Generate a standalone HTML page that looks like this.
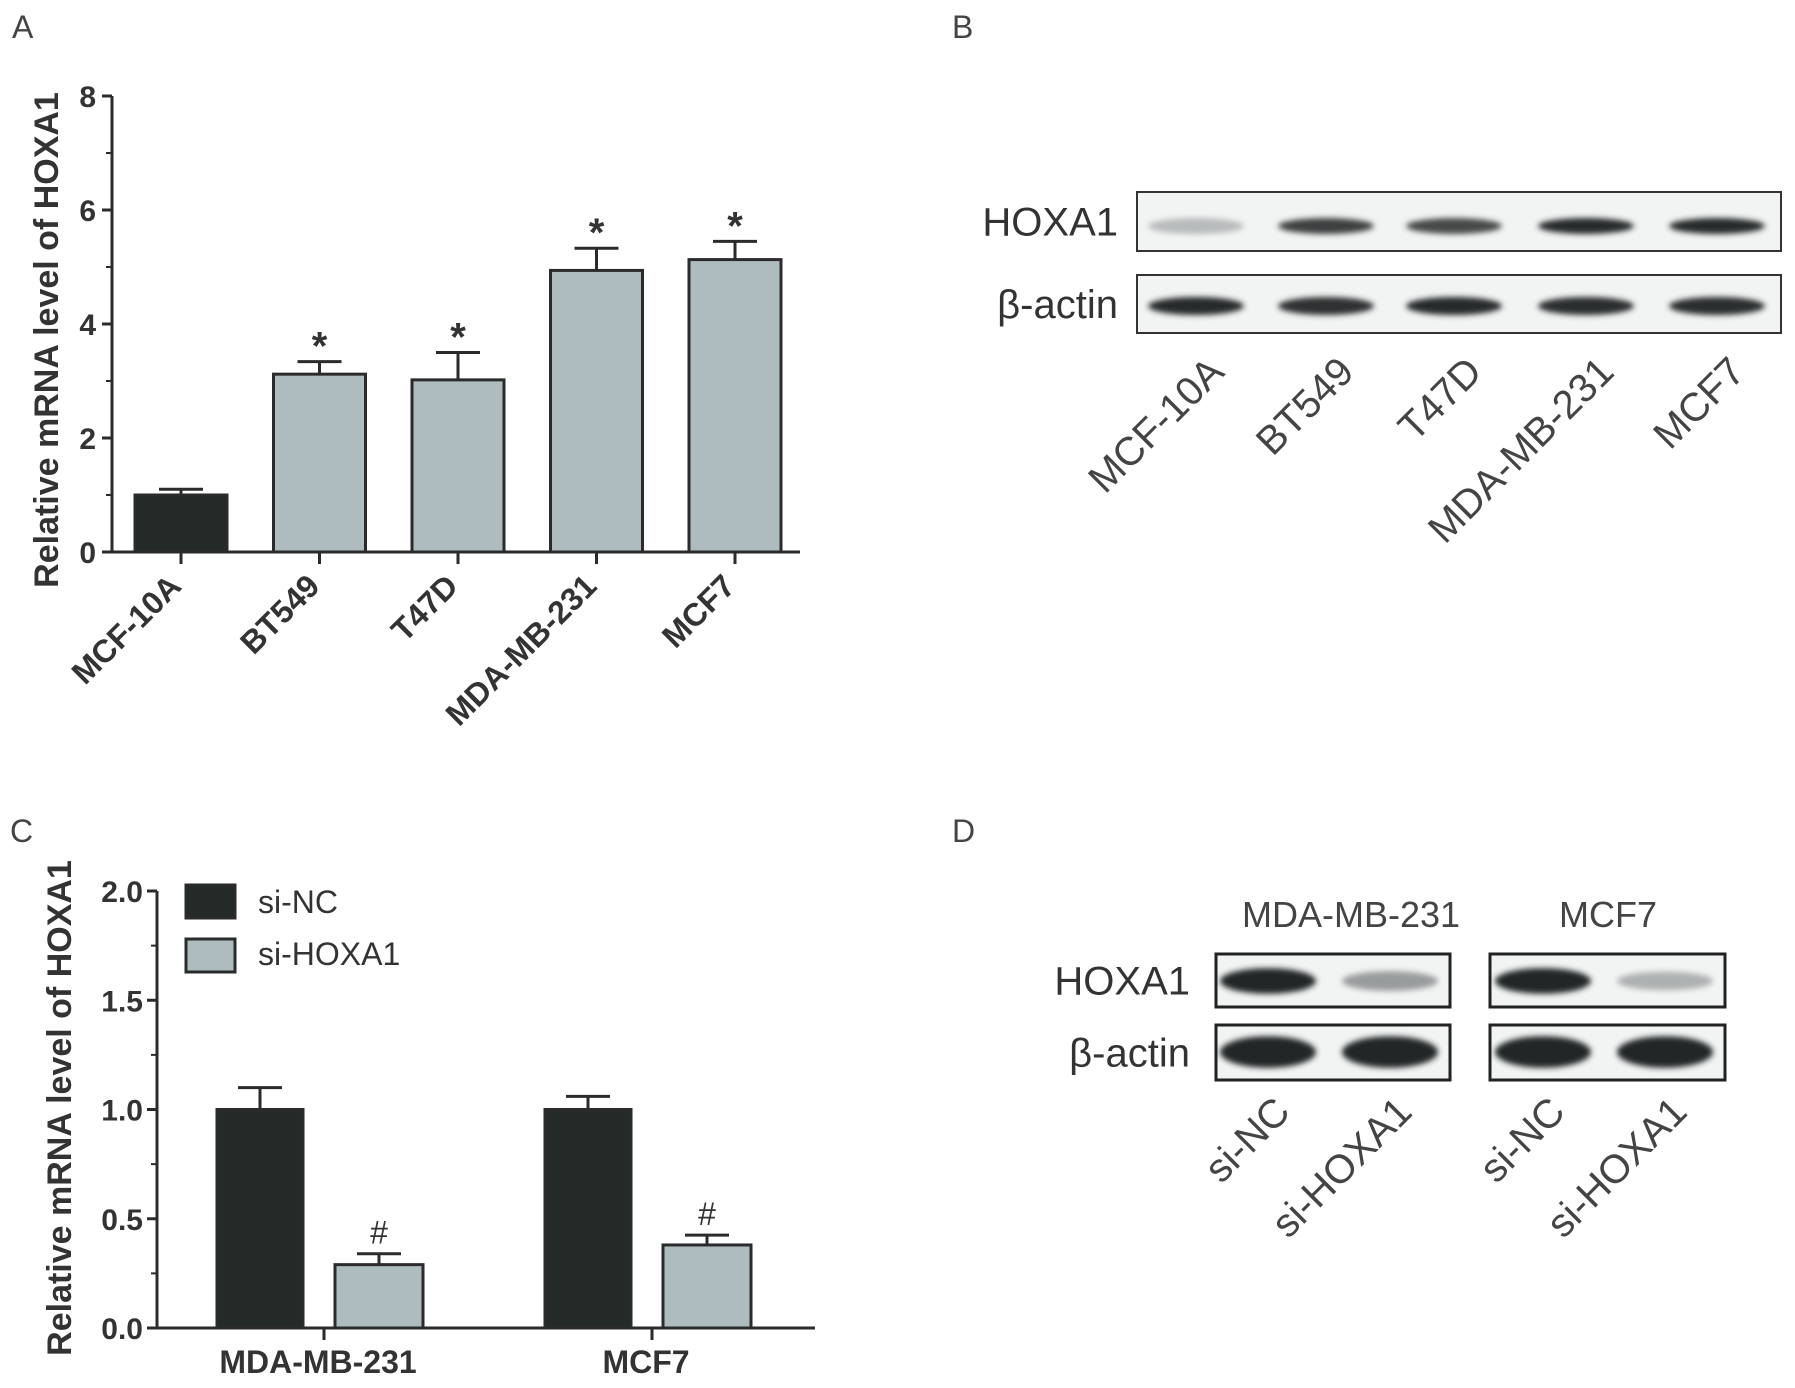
<!DOCTYPE html>
<html><head><meta charset="utf-8"><style>
html,body{margin:0;padding:0;background:#fff;}
svg{display:block;font-family:"Liberation Sans",Arial,sans-serif;}
</style></head><body>
<svg id="fig" width="1795" height="1388" viewBox="0 0 1795 1388" xmlns="http://www.w3.org/2000/svg">
<defs>
<filter id="blur" x="-20%" y="-80%" width="140%" height="260%"><feGaussianBlur stdDeviation="3"/></filter>
</defs>
<g id="panelA"></g>
<g id="panelB"></g>
<g id="panelC"></g>
<g id="panelD"></g>
</svg>
<script>
// Panel A data
const aCategories = ["MCF-10A","BT549","T47D","MDA-MB-231","MCF7"];
const aValues = [1.0, 3.12, 3.02, 4.94, 5.13];
const aErrors = [0.1, 0.22, 0.48, 0.39, 0.32];
const aMarks = ["", "*", "*", "*", "*"];
const aTicks = [0,2,4,6,8];
// Panel C data
const cGroups = ["MDA-MB-231","MCF7"];
const cSeries = ["si-NC","si-HOXA1"];
const cNC = [1.0, 1.0];
const cNCerr = [0.1, 0.06];
const cSi = [0.29, 0.38];
const cSiErr = [0.05, 0.045];
const cMarks = ["#", "#"];
const cTicks = [0.0,0.5,1.0,1.5,2.0];
// Panel B band intensities (0-1)
const bLanes = ["MCF-10A","BT549","T47D","MDA-MB-231","MCF7"];
const bHoxa = [0.25, 0.85, 0.8, 0.95, 0.95];
const bActin = [0.95, 0.92, 0.95, 0.93, 0.93];
// Panel D band intensities
const dLanes = ["si-NC","si-HOXA1","si-NC","si-HOXA1"];
const dHoxa = [0.97, 0.4, 0.97, 0.3];
const dActin = [0.97, 0.97, 0.97, 0.97];

const NS="http://www.w3.org/2000/svg";
function mk(parent, tag, attrs, text){
  const e=document.createElementNS(NS,tag);
  for(const k in attrs) e.setAttribute(k,attrs[k]);
  if(text!==undefined) e.textContent=text;
  parent.appendChild(e); return e;
}
const DARK="#232a28", GRAY="#aebbbf", LINE="#2b2b2b";

// ---------- Panel A ----------
(function(){
  const g=document.getElementById('panelA');
  const x0=112, xEnd=800, yTop=96, yBot=552, vmax=8;
  const y=v=>yBot-(v/vmax)*(yBot-yTop);
  const step=138.5, first=181, bw=92;
  const xc=i=>first+i*step;
  let t=mk(g,'text',{x:12,y:38,'font-size':32,fill:'#444'},'A');
   
  let ax=mk(g,'line',{x1:x0,y1:yTop,x2:x0,y2:yBot,stroke:LINE,'stroke-width':3});
   
  let bx=mk(g,'line',{x1:x0-2,y1:yBot,x2:xEnd,y2:yBot,stroke:LINE,'stroke-width':3});
   
  aTicks.forEach(v=>{
    mk(g,'line',{x1:x0-10,y1:y(v),x2:x0,y2:y(v),stroke:LINE,'stroke-width':3});
    let tl=mk(g,'text',{x:96,y:y(v)+11,'font-size':30,'font-weight':'bold','text-anchor':'end',fill:'#333'},String(v));
     
  });
  for(let i=0;i<4;i++){ const v=1+2*i; mk(g,'line',{x1:x0-6,y1:y(v),x2:x0,y2:y(v),stroke:LINE,'stroke-width':2}); }
  let yt=mk(g,'text',{x:0,y:0,'font-size':34,'font-weight':'bold','text-anchor':'middle',fill:'#333',transform:'translate(58,340) rotate(-90)'},'Relative mRNA level of HOXA1');
   
  aCategories.forEach((c,i)=>{
    const cx=xc(i);
    const top=aValues[i]+aErrors[i];
    mk(g,'line',{x1:cx,y1:y(aValues[i]),x2:cx,y2:y(top),stroke:LINE,'stroke-width':3});
    mk(g,'line',{x1:cx-22,y1:y(top),x2:cx+22,y2:y(top),stroke:LINE,'stroke-width':3});
    let r=mk(g,'rect',{x:cx-bw/2,y:y(aValues[i]),width:bw,height:yBot-y(aValues[i]),fill:i===0?DARK:GRAY,stroke:LINE,'stroke-width':3});
     
    mk(g,'line',{x1:cx,y1:yBot,x2:cx,y2:yBot+12,stroke:LINE,'stroke-width':3});
    let lb=mk(g,'text',{x:0,y:0,'font-size':32,'font-weight':'bold','text-anchor':'end',fill:'#333',transform:`translate(${cx+2},${yBot+36}) rotate(-45)`},c);
     
    if(aMarks[i]){
      let s=mk(g,'text',{x:cx,y:y(top)-2,'font-size':40,'font-weight':'bold','text-anchor':'middle',fill:'#333'},aMarks[i]);
       
    }
  });
})();

// ---------- Panel C ----------
(function(){
  const g=document.getElementById('panelC');
  const x0=157, xEnd=815, yTop=891, yBot=1328, vmax=2;
  const y=v=>yBot-(v/vmax)*(yBot-yTop);
  const gc=[324,652];
  let t=mk(g,'text',{x:10,y:842,'font-size':32,fill:'#444'},'C');
   
  let ax=mk(g,'line',{x1:x0,y1:yTop,x2:x0,y2:yBot,stroke:LINE,'stroke-width':3});
   
  let bx=mk(g,'line',{x1:x0-2,y1:yBot,x2:xEnd,y2:yBot,stroke:LINE,'stroke-width':3});
   
  cTicks.forEach(v=>{
    mk(g,'line',{x1:x0-10,y1:y(v),x2:x0,y2:y(v),stroke:LINE,'stroke-width':3});
    let tl=mk(g,'text',{x:143,y:y(v)+11,'font-size':30,'font-weight':'bold','text-anchor':'end',fill:'#333'},v.toFixed(1));
     
  });
  [0.25,0.75,1.25,1.75].forEach(v=>mk(g,'line',{x1:x0-6,y1:y(v),x2:x0,y2:y(v),stroke:LINE,'stroke-width':2}));
  let yt=mk(g,'text',{x:0,y:0,'font-size':34,'font-weight':'bold','text-anchor':'middle',fill:'#333',transform:'translate(71,1108) rotate(-90)'},'Relative mRNA level of HOXA1');
   
  cGroups.forEach((grp,i)=>{
    const c=gc[i];
    [[cNC,cNCerr,DARK,-64,'si-nc',86],[cSi,cSiErr,GRAY,55,'si-hoxa1',88]].forEach(([vals,errs,col,o,nm,bw])=>{
      const cx=c+o, v=vals[i], top=v+errs[i];
      mk(g,'line',{x1:cx,y1:y(v),x2:cx,y2:y(top),stroke:LINE,'stroke-width':3});
      mk(g,'line',{x1:cx-22,y1:y(top),x2:cx+22,y2:y(top),stroke:LINE,'stroke-width':3});
      let r=mk(g,'rect',{x:cx-bw/2,y:y(v),width:bw,height:yBot-y(v),fill:col,stroke:LINE,'stroke-width':3});
       
      if(o>0){
        let m=mk(g,'text',{x:cx,y:y(top)-10,'font-size':32,'text-anchor':'middle',fill:'#333'},cMarks[i]);
         
      }
    });
    mk(g,'line',{x1:c,y1:yBot,x2:c,y2:yBot+12,stroke:LINE,'stroke-width':3});
    let lb=mk(g,'text',{x:c-6,y:1373,'font-size':32,'font-weight':'bold','text-anchor':'middle',fill:'#333'},grp);
     
  });
  const lg=mk(g,'g',{});
   
  [[DARK,885,902],[GRAY,939,954]].forEach(([col,ry,ty],k)=>{
    let e=mk(lg,'g',{});
     
    mk(e,'rect',{x:186,y:ry,width:49,height:33,fill:col,stroke:LINE,'stroke-width':3});
    mk(e,'text',{x:258,y:ty+11,'font-size':32,fill:'#333'},cSeries[k]);
  });
})();

function band(g,cx,cy,w,h,intensity){
  const shade=Math.round(235-intensity*205);
  const e=mk(g,'ellipse',{cx:cx,cy:cy,rx:w/2,ry:h/2,fill:`rgb(${shade},${shade+3},${shade+3})`,filter:'url(#blur)'});
   
  return e;
}

// ---------- Panel B ----------
(function(){
  const g=document.getElementById('panelB');
  const lanes=[1196,1326,1454,1586,1717];
  let t=mk(g,'text',{x:952,y:38,'font-size':32,fill:'#444'},'B');
   
  [[192,251,'HOXA1',bHoxa,226,16],[275,333,'β-actin',bActin,306,18]].forEach(([y1,y2,lab,vals,by,bh])=>{
    let r=mk(g,'rect',{x:1137,y:y1,width:644,height:y2-y1,fill:'#f2f4f4',stroke:'#333','stroke-width':2});
     
    vals.forEach((v,i)=>band(g,lanes[i],by,96,bh,v));
    let l=mk(g,'text',{x:1118,y:(y1+y2)/2+14,'font-size':40,'text-anchor':'end',fill:'#333'},lab);
     
  });
  bLanes.forEach((c,i)=>{
    let l=mk(g,'text',{x:0,y:0,'font-size':40,'text-anchor':'end',fill:'#444',transform:`translate(${lanes[i]+30},${374}) rotate(-45)`},c);
     
  });
})();

// ---------- Panel D ----------
(function(){
  const g=document.getElementById('panelD');
  const lanes=[1268,1390,1543,1665];
  let t=mk(g,'text',{x:952,y:842,'font-size':32,fill:'#444'},'D');
   
  let h1=mk(g,'text',{x:1351,y:927,'font-size':36,'text-anchor':'middle',fill:'#444'},'MDA-MB-231');
   
  let h2=mk(g,'text',{x:1608,y:927,'font-size':36,'text-anchor':'middle',fill:'#444'},'MCF7');
   
  [[954,1007,'HOXA1',dHoxa,981,26],[1025,1080,'β-actin',dActin,1052,32]].forEach(([y1,y2,lab,vals,by,bh])=>{
    [[1216,1450],[1490,1725]].forEach(([x1,x2])=>{
      let r=mk(g,'rect',{x:x1,y:y1,width:x2-x1,height:y2-y1,fill:'#f2f4f4',stroke:'#222','stroke-width':3});
       
    });
    vals.forEach((v,i)=>band(g,lanes[i],by,96,bh*(0.6+0.4*v),v));
    let l=mk(g,'text',{x:1190,y:(y1+y2)/2+14,'font-size':40,'text-anchor':'end',fill:'#333'},lab);
     
  });
  dLanes.forEach((c,i)=>{
    let l=mk(g,'text',{x:0,y:0,'font-size':40,'text-anchor':'end',fill:'#444',transform:`translate(${lanes[i]+24},${1114}) rotate(-45)`},c);
     
  });
})();
</script>
</body></html>
